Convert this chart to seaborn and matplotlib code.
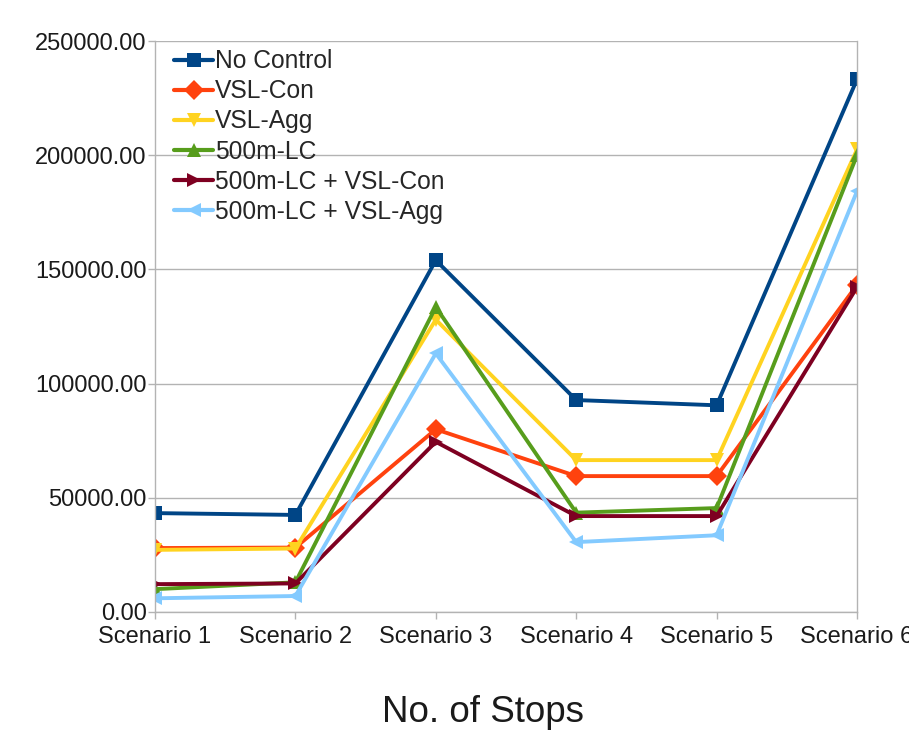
import pandas as pd
import matplotlib.pyplot as plt
import seaborn as sns
from matplotlib.ticker import FormatStrFormatter

# Scenario labels and number of stops per strategy
scenarios = ['Scenario 1', 'Scenario 2', 'Scenario 3', 'Scenario 4', 'Scenario 5', 'Scenario 6']
no_control = [43300, 42500, 154000, 92800, 90500, 233200]
vsl_con = [28000, 28200, 80000, 59500, 59500, 143200]
vsl_agg = [27200, 27800, 128000, 66500, 66500, 202500]
lc_500m = [10000, 13000, 133500, 43500, 45500, 200000]
lc_vsl_con = [12200, 12500, 74500, 42000, 42000, 142200]
lc_vsl_agg = [6000, 7000, 113200, 30600, 33600, 184200]

series_names = ['No Control', 'VSL-Con', 'VSL-Agg', '500m-LC',
                '500m-LC + VSL-Con', '500m-LC + VSL-Agg']
series_values = [no_control, vsl_con, vsl_agg, lc_500m, lc_vsl_con, lc_vsl_agg]

colors = ['#004586', '#ff420e', '#ffd320', '#579d1c', '#7e0021', '#83caff']
markers = ['s', 'D', 'v', '^', '>', '<']

# long format for seaborn
rows = []
for name, vals in zip(series_names, series_values):
    for i, v in enumerate(vals):
        rows.append({'pos': i, 'scenario': scenarios[i], 'series': name, 'stops': v})
df = pd.DataFrame(rows)

sns.set_style('white')
plt.rcParams['font.family'] = ['Liberation Sans', 'DejaVu Sans']

fig = plt.figure(figsize=(9.09, 7.41), dpi=100)
ax = fig.add_axes([155 / 909, 1 - 612 / 741, 702 / 909, 571 / 741])

sns.lineplot(data=df, x='pos', y='stops', hue='series', style='series',
             hue_order=series_names, style_order=series_names,
             palette=dict(zip(series_names, colors)),
             markers=dict(zip(series_names, markers)),
             dashes=False, linewidth=2.8, markersize=10.5, markeredgewidth=0,
             sort=False, ax=ax)

ax.set_xlim(0, 5)
ax.set_ylim(0, 250000)
ax.set_xticks(range(len(scenarios)))
ax.set_xticklabels(scenarios)
ax.set_yticks(range(0, 250001, 50000))
ax.yaxis.set_major_formatter(FormatStrFormatter('%.2f'))
ax.set_xlabel('')
ax.set_ylabel('')
ax.tick_params(axis='both', labelsize=17, colors='#b3b3b3', labelcolor='#1a1a1a',
               length=5, width=1, direction='out', left=True, bottom=True)
ax.tick_params(axis='x', pad=5)
ax.tick_params(axis='y', pad=1)
ax.grid(axis='y', color='#b3b3b3', linewidth=1)
ax.set_axisbelow(True)
for side in ['left', 'bottom', 'right']:
    ax.spines[side].set_color('#b3b3b3')
    ax.spines[side].set_linewidth(1)
ax.spines['top'].set_visible(False)

leg = ax.legend(loc='upper left', bbox_to_anchor=(0.013, 1.003), frameon=False,
                fontsize=17.7, handlelength=1.6, handletextpad=0.05,
                labelspacing=0.25, borderaxespad=0)
for h in leg.legend_handles:
    h.set_linewidth(3)
    h.set_markersize(10)

fig.text(483 / 909, 1 - 712 / 741, 'No. of Stops', fontsize=26.5,
         ha='center', va='center', color='#1a1a1a')

fig.savefig('out.png', dpi=100)
